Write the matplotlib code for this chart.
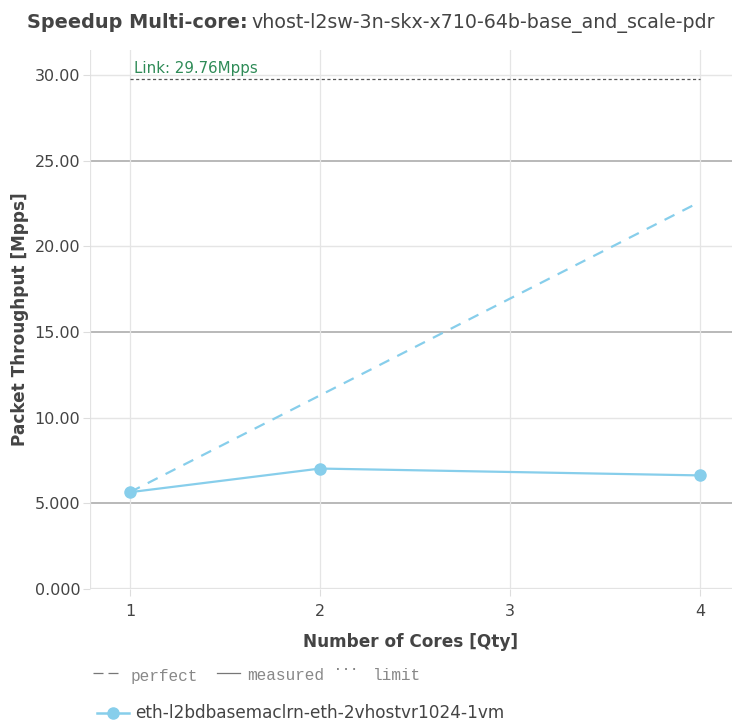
import matplotlib
matplotlib.use("Agg")
import matplotlib.pyplot as plt
from matplotlib.lines import Line2D

# data
cores = [1, 2, 4]
measured = [5.65, 7.03, 6.63]
perfect = [5.65, 11.30, 22.60]
link_limit = 29.76
series_name = "eth-l2bdbasemaclrn-eth-2vhostvr1024-1vm"
y_ticks = [0, 5, 10, 15, 20, 25, 30]
y_labels = ["0.000", "5.000", "10.00", "15.00", "20.00", "25.00", "30.00"]
x_ticks = [1, 2, 3, 4]

W, H = 732, 727
fig = plt.figure(figsize=(W / 100, H / 100), dpi=100)
ax = fig.add_axes([90 / W, 1 - 589 / H, (732 - 90) / W, (589 - 50) / H])

col = "#87ceeb"
txt = "#444444"

ax.set_xlim(0.79, 4.168)
ax.set_ylim(0, 31.46)

# grid
for v in y_ticks:
    if v == 0:
        continue
    if v % 10 == 5:
        ax.axhline(v, color="#b3b3b3", lw=1.3, zorder=1)
    else:
        ax.axhline(v, color="#e5e5e5", lw=1.0, zorder=1)
for v in x_ticks:
    ax.axvline(v, color="#e5e5e5", lw=0.9, zorder=1)
ax.axhline(0, color="#e3e3e3", lw=1.6, zorder=1)

for s in ax.spines.values():
    s.set_visible(False)
ax.axvline(0.79, color="#e3e3e3", lw=1.6, zorder=1)

ax.set_yticks(y_ticks)
ax.set_yticklabels(y_labels)
ax.set_xticks(x_ticks)
ax.set_xticklabels([str(x) for x in x_ticks])
ax.tick_params(axis="both", colors="#dddddd", labelcolor=txt, labelsize=11.5, length=5)
ax.tick_params(axis="y", pad=2)
ax.tick_params(axis="x", pad=6)

# limit line
ax.plot([1, 4], [link_limit, link_limit], color="#555555", lw=0.9, ls=(0, (2.5, 2)), zorder=3)
ax.text(1.02, link_limit + 0.2, "Link: 29.76Mpps", color="#2e8b57", fontsize=10.8, va="bottom", ha="left")

# perfect and measured
ax.plot(cores, perfect, color=col, lw=1.6, ls=(0, (5, 4)), zorder=4)
ax.plot(cores, measured, color=col, lw=1.6, marker="o", markersize=8, zorder=5)

ax.set_xlabel("Number of Cores [Qty]", fontsize=12.2, fontweight="bold", color=txt, labelpad=10)
ax.set_ylabel("Packet Throughput [Mpps]", fontsize=12.2, fontweight="bold", color=txt)
ax.yaxis.set_label_coords(-0.095, 0.5)

# title, bold part + regular part
fig.canvas.draw()
r = fig.canvas.get_renderer()
t1 = fig.text(27 / W, 1 - 28 / H, "Speedup Multi-core: ", fontsize=13.9, fontweight="bold", color=txt, va="baseline")
bb = t1.get_window_extent(r)
fig.text((bb.x1 - 3) / W, 1 - 28 / H, "vhost-l2sw-3n-skx-x710-64b-base_and_scale-pdr", fontsize=13.7, color=txt, va="baseline")

# style legend
mono = "Liberation Mono"
ly = 1 - 676 / H
gray = "#888888"
fig.add_artist(Line2D([93 / W, 123 / W], [1 - 673 / H] * 2, color="#777777", lw=0.9, ls=(0, (8, 4))))
fig.text(131 / W, ly, "perfect", fontsize=11.6, family=mono, color=gray, va="center")
fig.add_artist(Line2D([217 / W, 240 / W], [1 - 673 / H] * 2, color="#777777", lw=0.9))
fig.text(247 / W, ly, "measured", fontsize=11.6, family=mono, color=gray, va="center")
fig.add_artist(Line2D([337 / W, 360 / W], [1 - 669 / H] * 2, color="#777777", lw=1.3, ls=(0, (1, 3.5))))
fig.text(373 / W, ly, "limit", fontsize=11.6, family=mono, color=gray, va="center")

# series legend
sy = 1 - 713 / H
fig.add_artist(Line2D([97 / W, 129 / W], [sy, sy], color=col, lw=1.8))
fig.add_artist(Line2D([113 / W], [sy], color=col, marker="o", markersize=8, lw=0))
fig.text(135 / W, sy, series_name, fontsize=12.2, color=txt, va="center")

fig.savefig("out.png", dpi=100)
